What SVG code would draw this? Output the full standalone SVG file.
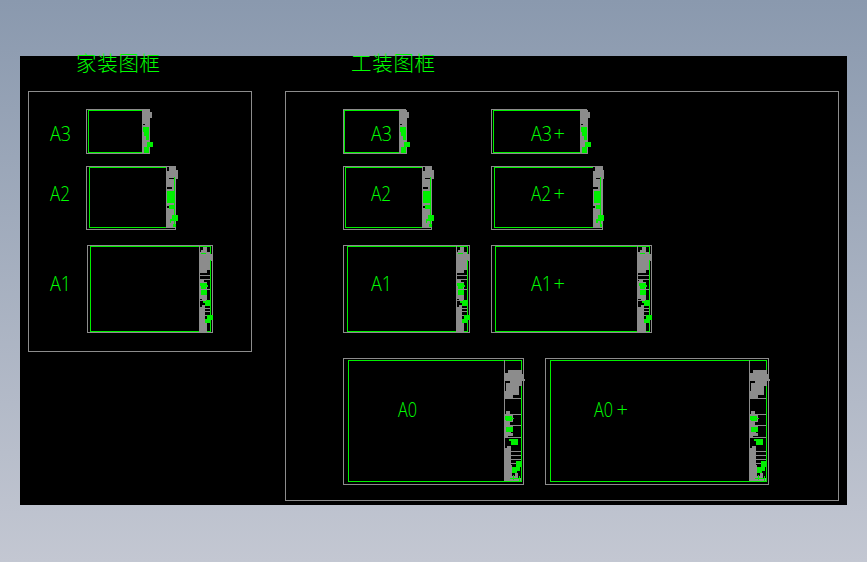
<svg xmlns="http://www.w3.org/2000/svg" width="867" height="562" viewBox="0 0 867 562">
<style>
rect,path{shape-rendering:crispEdges}
.o{fill:none;stroke:#8c8c8c;stroke-width:1}
.i{fill:none;stroke:#00f000;stroke-width:1}
.ib{fill:none;stroke:#00f000;stroke-width:1.5}
.l{fill:#00ff00;font-family:"Open Sans","Noto Sans",sans-serif;font-weight:300;font-size:20px}
.c{fill:#00ff00;font-family:"Noto Sans CJK SC",sans-serif;font-weight:300;font-size:20.5px;letter-spacing:.7px}
.g{fill:#8c8c8c}
.n{fill:#00f000}
.k{fill:#000}
.s{stroke:#8c8c8c;stroke-width:1;fill:none;vector-effect:non-scaling-stroke}
.t{stroke:#00f000;stroke-width:1;fill:none;vector-effect:non-scaling-stroke}
</style>
<defs>
<linearGradient id="bg" x1="0" y1="0" x2="0" y2="1"><stop offset="0" stop-color="#8a99ae"/><stop offset="1" stop-color="#c3c7d2"/></linearGradient>
<g id="tb" transform="translate(-492 -30)">
<path class="s" d="M492 30V393M492 145H543M492 195H543M492 228H543M492 262H543M492 305H543M510 318H543M510 330H543M510 342H530"/>
<path class="g" d="M505 60H545V72H550V88H555V92H545V108H538V135H520V148H493V122H498V100H510V92H495V70H505Z"/>
<path class="g" d="M497 182H510V192H518V215H510V225H520V235H514V250H520V258H505V264H493V195H497Z"/>
<path class="g" d="M493 295H500V289H512V345H516V393H493Z"/>
<path class="g" d="M512 378H525V368H535V385H542V393H512Z"/>
<path class="n" d="M495 198H515V203H522V208H515V213H497Z"/>
<path class="n" d="M497 232H520V245H497Z"/>
<path class="n" d="M507 267H533V285H513V272H507Z"/>
<path class="n" d="M528 332H545V350H528Z"/>
<path class="n" d="M515 352H540V362H532V368H515Z"/>
<path class="t" d="M510 385H540M520 375V390M540 378V392"/>
</g>
<g id="tb1" transform="translate(-27 -16)">
<path class="s" d="M27 16V276M27 105H62M27 118H62M27 148H62M27 180H62M27 205H62M46 215H62M46 225H62"/>
<path class="g" d="M40 22H52V36H60V42H70V62H62V72H60V90H52V100H28V36H33V30H40Z"/>
<path class="g" d="M30 118H42V126H50V180H36V176H28V122H30Z"/>
<path class="g" d="M28 200H36V195H45V248H50V276H28Z"/>
<path class="n" d="M30 128H50V134H54V142H48V146H32V138H30ZM33 150H52V165H33ZM40 184H48V180H60V197H46V190H40ZM52 225H68V240H62V248H46V238H52Z"/>
<path class="t" d="M62 60V276M32 40H48"/>
</g>
<g id="tb3" transform="translate(-366 -181)">
<path class="g" d="M366 181H390V185H396V205H390V311H366Z"/>
<path class="k" d="M368 222H375V226H368Z"/>
<path class="n" d="M370 230H386V200H388V270H378V258H372V245H370Z"/>
<path class="n" d="M380 275H398V292H388V310H386V292H380Z"/>
<path class="n" d="M372 292H386V308H372Z"/>
</g>
<g id="tb2" transform="translate(-438 -352)">
<path class="g" d="M438 352H468V360H474V388H468V535H438Z"/>
<path class="k" d="M441 352H446V362H441ZM441 410H456V418H441ZM441 468H447V474H441ZM448 385H462V388H448Z"/>
<path class="n" d="M442 424H462V458H442ZM448 465H462V478H448ZM456 494H474V512H456ZM450 508H470V512H454V520H450ZM460 522H468V530H460Z"/>
<path class="t" d="M463 380V530"/>
</g>
</defs>
<rect width="867" height="562" fill="url(#bg)"/>
<rect x="20" y="56" width="827" height="449" fill="#000"/>

<g id="title-home"><text class="c" x="76" y="71">家装图框</text></g>
<g id="title-work"><text class="c" x="351" y="71">工装图框</text></g>
<g id="panel-home"><rect class="o" x="28.5" y="91.5" width="223" height="260"/></g>
<g id="panel-work"><rect class="o" x="285.5" y="91.5" width="553" height="409"/></g>

<g id="home-a3"><rect class="o" x="86.5" y="109.5" width="63" height="44"/><rect class="ib" x="88.5" y="110.5" width="59" height="42"/><use href="#tb3" transform="translate(142 110.3) scale(.333)"/><text class="l" x="50" y="141" textLength="21" lengthAdjust="spacingAndGlyphs">A3</text></g>
<g id="home-a2"><rect class="o" x="86.5" y="166.5" width="89" height="62.5"/><rect class="i" x="89.5" y="167.5" width="85" height="60"/><use href="#tb2" transform="translate(166 167.3) scale(.333)"/><text class="l" x="50" y="201" textLength="20" lengthAdjust="spacingAndGlyphs">A2</text></g>
<g id="home-a1"><rect class="i" x="90.5" y="246.5" width="120" height="84.5"/><rect class="o" x="87.5" y="245.5" width="125" height="87"/><use href="#tb1" transform="translate(199 245.5) scale(.333)"/><text class="l" x="50" y="291" textLength="21" lengthAdjust="spacingAndGlyphs">A1</text></g>

<g id="work-a3"><rect class="o" x="343.5" y="109.5" width="62" height="44"/><rect class="ib" x="344.5" y="110.5" width="59" height="42"/><use href="#tb3" transform="translate(399 110.3) scale(.333)"/><text class="l" x="371" y="141" textLength="21" lengthAdjust="spacingAndGlyphs">A3</text></g>
<g id="work-a3plus"><rect class="o" x="491.5" y="109.5" width="95" height="44"/><rect class="ib" x="493.5" y="110.5" width="92" height="42"/><use href="#tb3" transform="translate(580 110.3) scale(.333)"/><text class="l" x="531" y="141"><tspan textLength="21" lengthAdjust="spacingAndGlyphs">A3</tspan><tspan x="553.5">+</tspan></text></g>
<g id="work-a2"><rect class="o" x="343.5" y="166.5" width="88" height="62.5"/><rect class="i" x="345.5" y="167.5" width="85" height="60"/><use href="#tb2" transform="translate(422 167.3) scale(.333)"/><text class="l" x="371" y="201" textLength="20" lengthAdjust="spacingAndGlyphs">A2</text></g>
<g id="work-a2plus"><rect class="o" x="491.5" y="166.5" width="111" height="62.5"/><rect class="i" x="494.5" y="167.5" width="107" height="60"/><use href="#tb2" transform="translate(592.5 167.3) scale(.333)"/><text class="l" x="531" y="201"><tspan textLength="20" lengthAdjust="spacingAndGlyphs">A2</tspan><tspan x="553.5">+</tspan></text></g>
<g id="work-a1"><rect class="i" x="347.5" y="246.5" width="120" height="84.5"/><rect class="o" x="343.5" y="245.5" width="126" height="87"/><use href="#tb1" transform="translate(456 245.5) scale(.333)"/><text class="l" x="371" y="291" textLength="21" lengthAdjust="spacingAndGlyphs">A1</text></g>
<g id="work-a1plus"><rect class="i" x="495.5" y="246.5" width="154" height="84.5"/><rect class="o" x="491.5" y="245.5" width="160" height="87"/><use href="#tb1" transform="translate(638 245.5) scale(.333)"/><text class="l" x="531" y="291"><tspan textLength="21" lengthAdjust="spacingAndGlyphs">A1</tspan><tspan x="553.5">+</tspan></text></g>
<g id="work-a0"><rect class="o" x="343.5" y="358.5" width="180" height="125.5"/><rect class="i" x="348.5" y="360.5" width="173" height="121"/><use href="#tb" transform="translate(504 360) scale(.333)"/><text class="l" x="398" y="417" textLength="19" lengthAdjust="spacingAndGlyphs">A0</text></g>
<g id="work-a0plus"><rect class="o" x="545.5" y="358.5" width="223" height="125.5"/><rect class="i" x="550.5" y="360.5" width="216" height="121"/><use href="#tb" transform="translate(749 360) scale(.333)"/><text class="l" x="594" y="417"><tspan textLength="19" lengthAdjust="spacingAndGlyphs">A0</tspan><tspan x="616.5">+</tspan></text></g>
</svg>
